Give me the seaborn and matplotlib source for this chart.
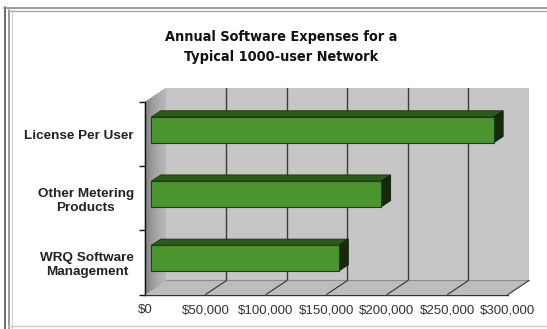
import matplotlib
matplotlib.use("Agg")
import matplotlib.pyplot as plt
import seaborn as sns
import pandas as pd
import numpy as np
from matplotlib.patches import Polygon
from matplotlib.lines import Line2D
from matplotlib.transforms import ScaledTranslation

# ---- data ----
categories = ["License Per User", "Other Metering\nProducts", "WRQ Software\nManagement"]
expenses = [283000, 190000, 155000]
tick_values = [0, 50000, 100000, 150000, 200000, 250000, 300000]
tick_labels = ["$0", "$50,000", "$100,000", "$150,000", "$200,000", "$250,000", "$300,000"]
title_lines = ["Annual Software Expenses for a", "Typical 1000-user Network"]

sns.set_theme(style="white")
plt.rcParams['font.family'] = ['Liberation Sans', 'DejaVu Sans']

W, H = 547, 329
fig = plt.figure(figsize=(W / 100, H / 100), dpi=100)
fig.patch.set_facecolor("white")

ax = fig.add_axes([145 / W, 1 - 294.5 / H, 363 / W, 192.5 / H])
ax.patch.set_visible(False)

df = pd.DataFrame({"Category": categories, "Expense": expenses})
sns.barplot(data=df, x="Expense", y="Category", orient="h", width=0.4,
            color="#4a952e", saturation=1, ax=ax, edgecolor="#1f3d12",
            linewidth=0.8, zorder=5)

ax.set_xlim(tick_values[0], tick_values[-1])
ax.set_ylim(2.5, -0.5)
ax.set_xlabel("")
ax.set_ylabel("")

DX, DY = 21, 14            # full depth offset in pixels
FF, FB = 0.3, 0.75         # bar front / back depth fractions


def shift(x, y, px, py):
    X, Y = ax.transData.transform((x, y))
    return ax.transData.inverted().transform((X + px, Y + py))


xmin, xmax = tick_values[0], tick_values[-1]
ytop, ybot = -0.5, 2.5

# back wall
back = [shift(xmin, ytop, DX, DY), shift(xmax, ytop, DX, DY),
        shift(xmax, ybot, DX, DY), shift(xmin, ybot, DX, DY)]
ax.add_patch(Polygon(back, closed=True, fc="#c6c6c6", ec="none", zorder=1, clip_on=False))

# floor
floor = [(xmin, ybot), (xmax, ybot), shift(xmax, ybot, DX, DY), shift(xmin, ybot, DX, DY)]
ax.add_patch(Polygon(floor, closed=True, fc="#bcbcbc", ec="none", zorder=1.2, clip_on=False))

# side wall with gradient strips
N = 20
c0 = np.array([0x80, 0x80, 0x80]) / 255
c1 = np.array([0xb8, 0xb8, 0xb8]) / 255
for i in range(N):
    f0, f1 = i / N, (i + 1) / N
    pts = [shift(xmin, ytop, DX * f0, DY * f0), shift(xmin, ytop, DX * f1, DY * f1),
           shift(xmin, ybot, DX * f1, DY * f1), shift(xmin, ybot, DX * f0, DY * f0)]
    col = c0 + (c1 - c0) * (f0 + f1) / 2
    ax.add_patch(Polygon(pts, closed=True, fc=col, ec=col, lw=0.3, zorder=1.3, clip_on=False))

# back wall gridlines
for v in tick_values[1:-1]:
    p0 = shift(v, ytop, DX, DY)
    p1 = shift(v, ybot, DX, DY)
    ax.add_line(Line2D([p0[0], p1[0]], [p0[1], p1[1]], color="#3a3a3a", lw=1.0, zorder=2, clip_on=False))
# back floor edge
p0 = shift(xmin, ybot, DX, DY)
p1 = shift(xmax, ybot, DX, DY)
ax.add_line(Line2D([p0[0], p1[0]], [p0[1], p1[1]], color="#8c8c8c", lw=0.8, zorder=2, clip_on=False))
# floor diagonals
for v in tick_values[1:]:
    p1 = shift(v, ybot, DX, DY)
    ax.add_line(Line2D([v, p1[0]], [ybot, p1[1]], color="#333333", lw=0.8, zorder=2, clip_on=False))

# 3D bars
off = ScaledTranslation(DX * FF / 100, DY * FF / 100, fig.dpi_scale_trans)
for p in list(ax.patches):
    if p.get_zorder() != 5:
        continue
    x0, y0, w, h = p.get_x(), p.get_y(), p.get_width(), p.get_height()
    x1 = x0 + w
    p.set_transform(ax.transData + off)
    p.set_clip_on(False)
    fx, fy = DX * FF, DY * FF
    bx, by = DX * FB, DY * FB
    top = [shift(x0, y0, fx, fy), shift(x1, y0, fx, fy), shift(x1, y0, bx, by), shift(x0, y0, bx, by)]
    ax.add_patch(Polygon(top, closed=True, fc="#2d581b", ec="#1a3310", lw=0.6, zorder=4.9, clip_on=False))
    end = [shift(x1, y0, fx, fy), shift(x1, y0, bx, by), shift(x1, y0 + h, bx, by), shift(x1, y0 + h, fx, fy)]
    ax.add_patch(Polygon(end, closed=True, fc="#17290d", ec="#10200a", lw=0.6, zorder=4.9, clip_on=False))

# axes styling
for s in ["top", "right"]:
    ax.spines[s].set_visible(False)
ax.spines["left"].set_color("#111111")
ax.spines["left"].set_linewidth(1.0)
ax.spines["left"].set_zorder(6)
ax.spines["bottom"].set_color("#333333")
ax.spines["bottom"].set_linewidth(1.0)
ax.spines["bottom"].set_zorder(6)

ax.set_xticks(tick_values, tick_labels)
ax.tick_params(axis="x", length=0, labelsize=9.5, labelcolor="#333333", pad=7)
ax.tick_params(axis="y", which="major", length=0, labelsize=9.7, labelcolor="#222222", pad=8)
ax.set_yticks([-0.5, 0.5, 1.5, 2.5], minor=True)
ax.tick_params(axis="y", which="minor", length=4, width=1, color="#111111", direction="out", left=True)
for lab in ax.get_yticklabels():
    lab.set_fontweight("bold")
    lab.set_multialignment("center")

# title (condensed bold face)
tfam = ["Liberation Sans Narrow", "DejaVu Sans"]
tprops = dict(ha="center", va="center", fontsize=10.4, fontweight="bold",
              family=tfam, fontstretch="condensed", color="#111111")
fig.text(281 / W, 1 - 37.5 / H, title_lines[0], **tprops)
fig.text(281 / W, 1 - 57.5 / H, title_lines[1], **tprops)

# outer frame
def hline(y, x0, x1, c, lw=1.0):
    fig.add_artist(Line2D([x0 / W, x1 / W], [1 - y / H, 1 - y / H], color=c, lw=lw, transform=fig.transFigure))


def vline(x, y0, y1, c, lw=1.0):
    fig.add_artist(Line2D([x / W, x / W], [1 - y0 / H, 1 - y1 / H], color=c, lw=lw, transform=fig.transFigure))


vline(4.5, 7, 329, "#555555", 1.2)
vline(8.5, 10, 329, "#8a8a8a", 1.2)
vline(12, 12, 329, "#d0d0d0", 0.8)
hline(7.5, 4, 547, "#8a8a8a", 1.2)
hline(11, 8, 547, "#a8a8a8", 1.0)
hline(325.5, 8, 547, "#c8c8c8", 1.0)

fig.savefig("out.png", dpi=100, facecolor="white")
